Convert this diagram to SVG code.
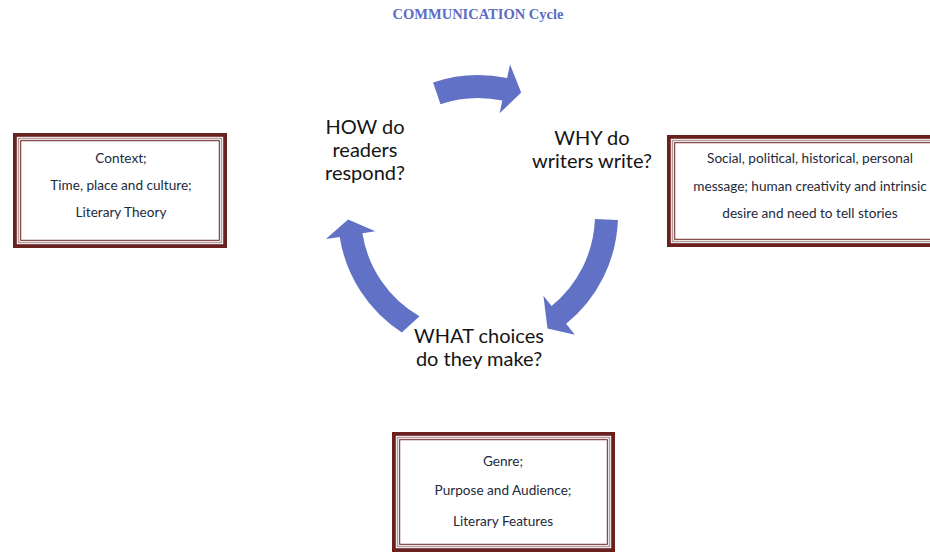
<svg xmlns="http://www.w3.org/2000/svg" width="930" height="559" viewBox="0 0 930 559">
<style>
.title{font-family:"Liberation Serif","DejaVu Serif",serif;font-weight:bold;font-size:14.5px;fill:#5b6cc4}
.lbl{font-family:Lato,"Liberation Sans",sans-serif;font-size:20px;fill:#141414;text-anchor:middle}
.box{font-family:Lato,"Liberation Sans",sans-serif;font-size:13.6px;fill:#1e2a3a;text-anchor:middle}
.f1{fill:#fff;stroke:#6b2020;stroke-width:3.8}
.f2{fill:none;stroke:#b39c9c;stroke-width:1.5}
.f3{fill:none;stroke:#6b2020;stroke-width:1}
.arr{fill:#6171c5}
</style>
<rect width="930" height="559" fill="#fff"/>
<text class="title" x="478" y="19" text-anchor="middle">COMMUNICATION Cycle</text>

<g id="connectors">
<path class="arr" d="M433.1,82.4 A140,140 0 0 1 507.1,78.1 L510.0,64.4 L521.2,92.4 L499.6,113.3 L502.3,100.6 A117,117 0 0 0 440.5,104.2 Z"/>
<path class="arr" d="M617.9,219.9 A140,140 0 0 1 566.1,323.8 L574.9,334.7 L547.5,328.4 L543.4,295.8 L551.6,305.9 A117,117 0 0 0 594.9,219.1 Z"/>
<path class="arr" d="M401.8,332.4 A140,140 0 0 1 339.7,236.9 L325.9,239.1 L348.1,219.5 L375.3,231.3 L362.4,233.3 A117,117 0 0 0 419.5,316.3 Z"/>
</g>

<g id="how">
<text class="lbl" x="365" y="134">HOW do</text>
<text class="lbl" x="365" y="157">readers</text>
<text class="lbl" x="365" y="180">respond?</text>
</g>
<g id="why">
<text class="lbl" x="592" y="145">WHY do</text>
<text class="lbl" x="592" y="168">writers write?</text>
</g>
<g id="what">
<text class="lbl" x="479" y="343">WHAT choices</text>
<text class="lbl" x="479" y="366">do they make?</text>
</g>

<g id="context-box">
<rect class="f1" x="14.9" y="134.9" width="210.2" height="111.2"/>
<rect class="f2" x="18.5" y="138.5" width="203" height="104"/>
<rect class="f3" x="20.7" y="140.7" width="198.6" height="99.6"/>
<text class="box" x="121" y="163">Context;</text>
<text class="box" x="121" y="190">Time, place and culture;</text>
<text class="box" x="121" y="217">Literary Theory</text>
</g>

<g id="why-box">
<rect class="f1" x="668.9" y="136.9" width="280" height="108.2"/>
<rect class="f2" x="672.5" y="140.5" width="273" height="101"/>
<rect class="f3" x="674.7" y="142.7" width="268.5" height="96.6"/>
<text class="box" x="810" y="163">Social, political, historical, personal</text>
<text class="box" x="810" y="191">message; human creativity and intrinsic</text>
<text class="box" x="810" y="218">desire and need to tell stories</text>
</g>

<g id="what-box">
<rect class="f1" x="393.9" y="433.9" width="219.2" height="116.2"/>
<rect class="f2" x="397.5" y="437.5" width="212" height="109"/>
<rect class="f3" x="399.7" y="439.7" width="207.6" height="104.6"/>
<text class="box" x="503" y="466">Genre;</text>
<text class="box" x="503" y="495">Purpose and Audience;</text>
<text class="box" x="503" y="526">Literary Features</text>
</g>
</svg>
